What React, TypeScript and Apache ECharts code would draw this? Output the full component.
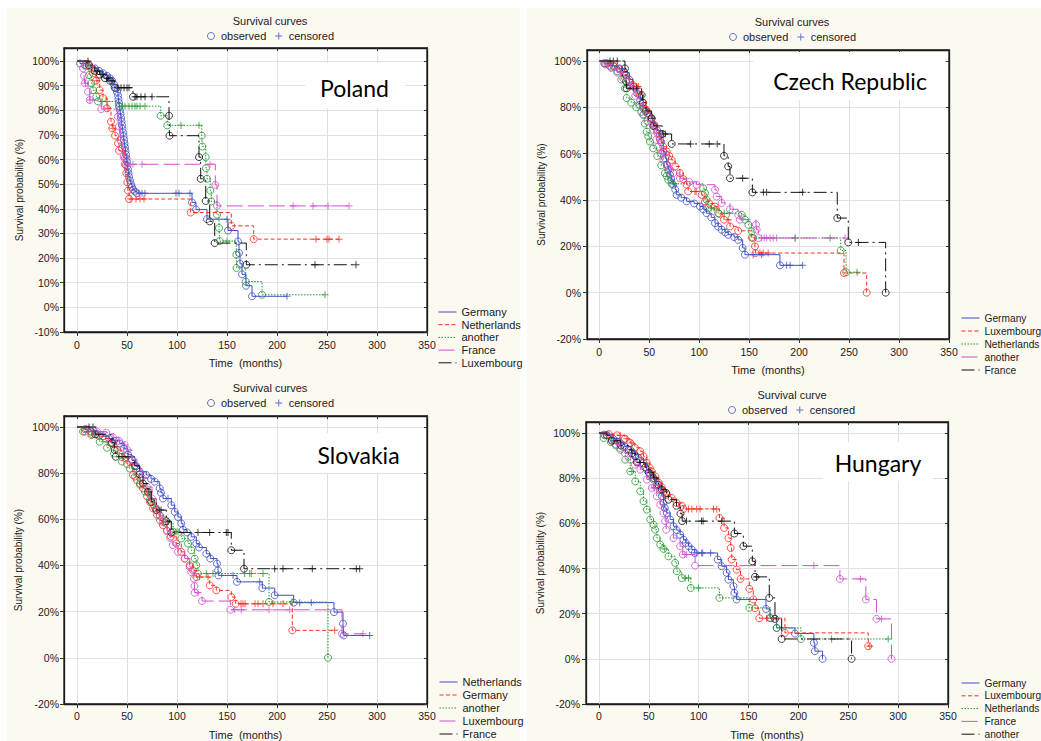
import React, { useEffect, useRef } from 'react';
import * as echarts from 'echarts';

// ---------- categories / labels ----------
const COUNTRIES = ['Poland', 'Czech Republic', 'Slovakia', 'Hungary'];
const TITLES = ['Survival curves', 'Survival curves', 'Survival curves', 'Survival curve'];
const PL_NAMES = ['Germany', 'Netherlands', 'another', 'France', 'Luxembourg'];
const CZ_NAMES = ['Germany', 'Luxembourg', 'Netherlands', 'another', 'France'];
const SK_NAMES = ['Netherlands', 'Germany', 'another', 'Luxembourg', 'France'];
const HU_NAMES = ['Germany', 'Luxembourg', 'Netherlands', 'France', 'another'];
const X_TICKS = [0, 50, 100, 150, 200, 250, 300, 350];
const Y_TICKS_10 = [-10, 0, 10, 20, 30, 40, 50, 60, 70, 80, 90, 100];
const Y_TICKS_20 = [-20, 0, 20, 40, 60, 80, 100];

// ---------- Poland: events [time, survival %], censored times ----------
const PL_GE_E = [[3,99],[10,98],[18,97],[22,96],[26,95],[30,94],[33,93],[35,92],[37,90.5],[39,89],[40,87.5],[41,86],[41.5,84.5],[42,83],[42.5,81.5],[43,80],[43.5,78.5],[44,77],[44.5,75.5],[45,74],[45.5,72.5],[46,71],[46.5,69.5],[47,68],[47.5,66.5],[48,65],[48.5,63.5],[49,62],[49.5,60.5],[50,59],[50.5,57.5],[51,56],[51.5,54.5],[52,53],[53,51.5],[54,50],[55,48.8],[56,47.8],[58,47],[60,46.3],[115,42.6],[119,39.7],[130,35.8],[151,31.2],[161,26.8],[162,22.1],[163,17.7],[165,13.4],[169,8.8],[175,4.5]];
const PL_GE_C = [62,65,68,99,102,113,150,210];
const PL_NL_E = [[12,98],[16,95],[19,92],[22.7,88.2],[26,85],[30,80.8],[34,75.4],[35.3,72.7],[38,69.7],[41,66.6],[42,63.6],[47.7,60.5],[48.7,57.8],[49.3,54.5],[50.3,50.8],[51,47.4],[52,44],[113.7,38.5],[154.3,33.1],[176.7,27.7]];
const PL_NL_C = [20,31,36,54,59,63,67,239,250,252,262];
const PL_AN_E = [[7.7,98.4],[12,94.3],[14.3,91],[16,88.2],[19.3,85.5],[21,83.6],[42,81.7],[83.7,77.8],[90.3,73.9],[124.7,69.7],[125.3,65.3],[128.7,61],[129,56.5],[130,52.2],[133.3,47.4],[134.3,43],[140,37.6],[142,32.2],[142.7,26.9],[159.3,21.4],[159.5,16],[168.7,10.5],[185,5.1]];
const PL_AN_C = [25,30,45,48,52,55,58,60,63,68,104,122,150,248];
const PL_FR_E = [[6,97],[7,94],[7.7,91],[11,87.6],[12.7,84.2],[24.3,80.5],[41,77.4],[42,73.4],[43.3,68],[45,64.6],[46.7,61.2],[47.7,58.1],[138.3,49.7],[140,41.2]];
const PL_FR_C = [8.5,13,56,65,133,216,236,251,272];
const PL_LU_E = [[12,98.4],[17.7,96],[22.7,94.5],[28,93],[33,92],[37.7,89.2],[56,85.5],[92,77.8],[92.5,69.7],[122,61],[123.7,52.2],[128.7,43.2],[132.7,34.9],[137.7,26.1],[169.3,17.3]];
const PL_LU_C = [11,20,24,26,30,31,35,41,44,47,50,52,58,60,64,68,75,238,279];

// ---------- Czech Republic ----------
const CZ_GE_E = [[5,99],[10,98],[15,97.5],[20,96.8],[25,95],[30,92],[34,89],[38,86],[41,83],[44,79.6],[48,77.5],[52,75.3],[55,72],[58,70],[60.7,68.1],[62,65],[64,60.9],[66,58],[67.4,55.2],[69,53],[70.7,50.9],[72,49],[74,46.6],[76,44.5],[77.4,42.2],[82,41],[87.4,39.4],[95,38.5],[100.7,37.2],[104,36],[107.4,34.3],[112,32.5],[115.8,30],[119,28.5],[122.5,27.2],[126,26],[129,25],[135,24],[139,22.8],[143.5,19.3],[145.8,16.4],[180.8,11.8]];
const CZ_GE_C = [154,162.5,187.5,191,203.5];
const CZ_LU_E = [[8,99],[14,98],[20,96.5],[25,94],[30,91],[35,89],[40.7,85.3],[44,82],[47,79],[49,77.4],[52,75],[55,72.5],[58,69],[60.7,66],[64,63],[67.4,60.9],[70,59],[72.4,57.3],[76,54.5],[80.7,51.6],[84,49],[87.4,46.6],[89,43.7],[102.4,42.2],[105.8,39.4],[110,38.5],[115.8,37.2],[120,34],[124.8,31.5],[130.8,28.6],[139,26.7],[152.5,23.8],[155.8,20],[156.3,17.1],[244.9,8.5],[267.6,0]];
const CZ_LU_C = [37,39,95.8,97,129,160.8,164,169];
const CZ_NL_E = [[6,99],[12,97.5],[18,95.5],[22,92],[25.7,88.2],[27.4,84],[32,82],[37,80],[42,78],[44,76.7],[45.5,73],[47.4,69.5],[49,67.5],[50.7,65.2],[54,62.3],[58,59],[62,55],[65.7,51.6],[67.4,50.4],[69,48.7],[72.4,47],[104,45.1],[105.8,43],[107.4,40.1],[109,36.5],[119,34.3],[142.5,33.6],[145.8,31.5],[149.2,29.3],[152.5,26.4],[154,23.6],[241.6,18.2],[247,8.8]];
const CZ_NL_C = [74,112,115,125,130,196,231,258];
const CZ_AN_E = [[6,98.5],[12,97],[18,95],[24,92.5],[30,89],[36,85],[40,81],[44,77],[48,74],[54,70.3],[57,66],[59,63],[62,60],[64,57.3],[68,55],[71,53],[74,51.6],[80.7,49.4],[90,47.8],[97.4,46.6],[115.8,44.4],[117.4,41.5],[122.5,38.7],[130.8,36],[139,33.6],[140.7,31.5],[156.8,29.3],[157.5,27.2],[159.2,23.6]];
const CZ_AN_C = [162.5,165,167.5,171,174,177.5,196,246];
const CZ_FR_E = [[25.7,96.8],[26.7,94],[26.9,91.1],[27.4,88.2],[42.4,85.3],[43.4,82],[46.7,78.4],[52.4,75.3],[54,72],[63,68.5],[72.4,64.2],[124.8,59.1],[129,54.5],[130.8,49.4],[153.2,43.3],[238.2,32.2],[249.2,21.7],[286.6,0]];
const CZ_FR_C = [10.7,14,18,34,37.4,53,64,66,91.4,110,118,143.5,164.2,167.5,203.5,259.3];

// ---------- Slovakia ----------
const SK_NL_E = [[8,99],[14,98],[20,97],[26,96],[32,95],[37,94],[42.7,92.9],[47,90.5],[51,88],[55,85.5],[59,83],[62.7,80.6],[69.3,79.2],[74,77.5],[77.7,76.3],[82.7,73.4],[84,71.5],[86,69],[94.3,66.1],[97.7,63.2],[101,61],[104.3,58.2],[106,55.5],[110,54.3],[114.3,52.4],[119.3,49.5],[122,47.8],[129.3,45.1],[133.3,43],[140,40.8],[141,37.9],[141.5,35.7],[160,32.9],[185.3,30.2],[197.7,27.1],[216.7,23.9],[257,19.8],[266,14.8],[266.7,9.7]];
const SK_NL_C = [91,156,182.7,222.7,234.3,292.7];
const SK_GE_E = [[7.7,98],[15,97],[22,96],[28,95],[34,93],[40,90],[45,87],[50,84],[56,79.2],[60,77],[63,75],[66,73.4],[70,70],[73,67.5],[76,64.7],[80,62],[83,59.5],[86,57.5],[90,55],[94,52.5],[99.3,49.5],[104.3,45.9],[107.7,43],[112.7,40.1],[116,37.9],[119.3,35],[132.7,31.4],[139.3,29.2],[154.3,26.3],[158.7,23.4],[215.3,11.9]];
const SK_GE_C = [122.7,131,164,166,168,178,181,186,196,206,257.7];
const SK_AN_E = [[6,98],[14.3,96.5],[22.7,93.6],[30,91],[37,88.5],[45,85],[52.7,82],[58,78.5],[63,75.5],[68,72],[73,68.5],[78,65],[82.7,61.8],[88,58.5],[96,54.6],[104.3,51.7],[111,49.5],[114.3,46.6],[117.7,43],[119.3,40.1],[121,36.5],[192,24.2],[251,0]];
const SK_AN_C = [99,101,129.3,136,167.7,172.7,174.3,186,215];
const SK_LU_E = [[10,99],[20,98],[29.3,97.5],[36,95.5],[42,94],[47.7,92.2],[50,90],[55,86],[60,82],[65,78],[70,74],[75,69],[79.3,64.7],[83,61.5],[86,58.9],[90,55],[93,52],[96,48.8],[101,45.9],[107.7,43],[112.7,39.4],[114.3,37.2],[117,34.3],[117.5,31.1],[117.7,28.2],[125,24.6],[153.3,20.8],[265,10.4]];
const SK_LU_C = [121,157.7,164.3,192,212.7,286];
const SK_FR_E = [[18.3,96.8],[35,93.2],[37.7,90],[38.7,87.1],[57.7,83.2],[62.7,79.5],[66,75.5],[71,71.9],[74.3,67.6],[79.3,64],[89.3,59.2],[94.3,54.3],[154.3,46.6],[167,38.6]];
const SK_FR_C = [12,16,46,51,72,84,91,121,132.7,149.3,151,197.7,206,235.3,279.3,282.7];

// ---------- Hungary ----------
const HU_GE_E = [[5,99.3],[14,97.5],[21.4,95.6],[26,94],[31.4,92.6],[36,90.5],[39.7,89],[44.7,86.7],[48,83.8],[51,81.5],[54.7,79.4],[58,77],[61.4,74.9],[63,72],[64.7,69],[66,66.8],[68,64.6],[71.4,61.7],[74.7,58.7],[78,57],[81.4,55],[84.7,52.8],[87,51.3],[89.8,49.9],[93.1,48.4],[96,46.9],[119,44],[123,41],[128,38.1],[129.8,35.1],[134.8,32.2],[135.8,29.2],[138,26.3],[167.5,22.1],[171.5,18.1],[178.2,13.7],[196.5,11.2],[215.5,7.1],[216.5,3.4],[224.2,0]];
const HU_GE_C = [98,103,104,112];
const HU_LU_E = [[10,99.5],[18,99],[26,97.5],[31.4,95.6],[36,93.5],[41.4,91.9],[44.7,89.7],[48,86.7],[51,84.5],[53,83],[56.4,80.8],[60,78],[63,76],[65,74],[68,72.7],[73,71.2],[78,69],[83,67.8],[84.7,66.4],[120.8,62.4],[125.5,58],[129.8,53.5],[132.1,49.1],[133.1,44],[138,39.5],[142,35.4],[150.8,31],[154.8,26.3],[156.5,22.4],[160.8,18],[186.5,11.5],[270,5.6]];
const HU_LU_C = [21.4,28,33,89.8,93.1,98,101.4,114.8,118.1,168.2,174.8,271.6];
const HU_NL_E = [[4.7,97.8],[12,96],[17,94.5],[21.4,92.6],[26.4,88.2],[31.4,83],[36.4,78.6],[41.4,74.2],[44.7,69.8],[48,66.1],[51.4,61.7],[54.7,59.4],[56.4,57.2],[58,53.5],[61.4,50.6],[64.7,48.7],[69.7,45.4],[76.4,42.5],[78,38.8],[83,35.8],[92.1,31.4],[120.8,27],[150.8,22.6],[172,18],[178.2,13.7],[202.5,8.8]];
const HU_NL_C = [33,66,86.4,89.8,99.8,233.3,290];
const HU_FR_E = [[6,99],[13,97],[17,95],[21.4,93.4],[26,91],[31.4,88.2],[36,86],[41.4,83.8],[48,79.4],[53,75.7],[58,72],[61.4,68.3],[64.7,64.6],[66.4,61],[67.4,57.2],[74.7,53.5],[81.4,49.9],[84.1,46.2],[96.4,41.3],[241.6,35.4],[267.6,26.3],[278.3,17.7],[293.3,0]];
const HU_FR_C = [55,56,86,88,215.5,262.3,283.3];
const HU_AN_E = [[8,99],[13,96.6],[22,94.5],[29.7,92.6],[33,91],[36.4,89.7],[38,87],[46.4,84.8],[50,82.5],[54.7,80.1],[59.7,77.1],[63,75],[67.4,73.5],[69.7,70.5],[77.7,67.8],[81.7,64.3],[83.4,61],[135.8,55.5],[144.8,49.9],[153.8,43.2],[156.5,36.3],[170.8,27],[176.5,17.7],[183.2,8.8],[253.3,0]];
const HU_AN_C = [15,18,41,52,56,87.8,102.8,104.4,123.1,158,178];

// ---------- assembly ----------
const PANEL_NAMES = [PL_NAMES, CZ_NAMES, SK_NAMES, HU_NAMES];
const PANEL_EVENTS = [
  [PL_GE_E, PL_NL_E, PL_AN_E, PL_FR_E, PL_LU_E],
  [CZ_GE_E, CZ_LU_E, CZ_NL_E, CZ_AN_E, CZ_FR_E],
  [SK_NL_E, SK_GE_E, SK_AN_E, SK_LU_E, SK_FR_E],
  [HU_GE_E, HU_LU_E, HU_NL_E, HU_FR_E, HU_AN_E],
];
const PANEL_CENSORED = [
  [PL_GE_C, PL_NL_C, PL_AN_C, PL_FR_C, PL_LU_C],
  [CZ_GE_C, CZ_LU_C, CZ_NL_C, CZ_AN_C, CZ_FR_C],
  [SK_NL_C, SK_GE_C, SK_AN_C, SK_LU_C, SK_FR_C],
  [HU_GE_C, HU_LU_C, HU_NL_C, HU_FR_C, HU_AN_C],
];

const COLORS = ['#3d4fc6', '#ff2b1c', '#22992a', '#d050d0', '#111111'];
const DASHES: any[] = ['solid', [4, 2.5], [1.5, 1.5], [16, 5], [13, 4, 2, 4]];
const PLUS = 'path://M-0.14,-1H0.14V-0.14H1V0.14H0.14V1H-0.14V0.14H-1V-0.14H-0.14Z';
const FONT = 'Liberation Sans, Arial, sans-serif';
const TXT = '#1a1a1a';

const LAYOUT = [
  { left: 64, top: 48, width: 363, height: 284, xMin: -13, yMin: -10, yMax: 105.3, yTicks: Y_TICKS_10, titleX: 270, titleY: 21, legLeft: 207, legY: 36, sideLeft: 438, sideY: 312, sideGap: 12.7, sideFont: 11, cx: 354.5, cy: 88, box: [305, 63, 100, 45], xMargin: 7, yMargin: 5, yNameGap: 40 },
  { left: 587, top: 50, width: 362, height: 289, xMin: -12.3, yMin: -20, yMax: 104.75, yTicks: Y_TICKS_20, titleX: 792, titleY: 22, legLeft: 729, legY: 37, sideLeft: 961, sideY: 318, sideGap: 13, sideFont: 10.2, cx: 850, cy: 81, box: [753, 52, 192, 48], xMargin: 7, yMargin: 6, yNameGap: 41 },
  { left: 64, top: 416, width: 363, height: 288, xMin: -13, yMin: -20, yMax: 104.75, yTicks: Y_TICKS_20, titleX: 270, titleY: 388, legLeft: 207, legY: 403, sideLeft: 439, sideY: 682, sideGap: 13, sideFont: 11, cx: 358.5, cy: 455, box: [313, 433, 92, 40], xMargin: 6, yMargin: 5, yNameGap: 41 },
  { left: 586, top: 422, width: 362, height: 282, xMin: -13, yMin: -20, yMax: 104.9, yTicks: Y_TICKS_20, titleX: 792, titleY: 395, legLeft: 728, legY: 410, sideLeft: 961, sideY: 683, sideGap: 12.8, sideFont: 10.2, cx: 878, cy: 463, box: [823, 442, 110, 39], xMargin: 6, yMargin: 6, yNameGap: 41 },
];

function level(ev: number[][], t: number) {
  let s = 100;
  for (const [x, y] of ev) {
    if (x <= t) s = y;
    else break;
  }
  return s;
}

function buildOption() {
  const xAxis: any[] = [];
  const yAxis: any[] = [];
  const series: any[] = [];
  const legend: any[] = [];
  const graphic: any[] = [
    { type: 'rect', shape: { x: 7, y: 8, width: 513, height: 733 }, style: { fill: '#fbf9f0' }, z: -10, silent: true },
    { type: 'rect', shape: { x: 527, y: 8, width: 514, height: 733 }, style: { fill: '#fbf9f0' }, z: -10, silent: true },
  ];
  const axisLine = { show: true, onZero: false, lineStyle: { color: '#1a1a1a', width: 1.3 } };

  LAYOUT.forEach((L, i) => {
    xAxis.push({
      type: 'value', gridIndex: i, position: 'bottom', min: L.xMin, max: 350,
      name: 'Time  (months)', nameLocation: 'middle', nameGap: 25.5,
      nameTextStyle: { fontSize: 11, color: TXT, fontFamily: FONT },
      axisLine, axisTick: { show: true, length: 4, customValues: X_TICKS, lineStyle: { color: '#333' } },
      axisLabel: { customValues: X_TICKS, margin: L.xMargin, fontSize: 10.5, color: TXT, fontFamily: FONT },
      splitLine: { show: true, lineStyle: { color: '#e0e0e0', width: 1 } },
    });
    xAxis.push({
      type: 'value', gridIndex: i, position: 'top', min: L.xMin, max: 350,
      axisLine, axisTick: { show: true, inside: true, length: 3, customValues: X_TICKS, lineStyle: { color: '#333' } },
      axisLabel: { show: false }, splitLine: { show: false },
    });
    yAxis.push({
      type: 'value', gridIndex: i, position: 'left', min: L.yMin, max: L.yMax,
      name: 'Survival probability (%)', nameLocation: 'middle', nameGap: L.yNameGap,
      nameTextStyle: { fontSize: 10, color: TXT, fontFamily: FONT },
      axisLine, axisTick: { show: true, length: 4, customValues: L.yTicks, lineStyle: { color: '#333' } },
      axisLabel: { customValues: L.yTicks, margin: L.yMargin, fontSize: 10.5, color: TXT, fontFamily: FONT, formatter: (v: number) => `${v}%` },
      splitLine: { show: true, lineStyle: { color: '#e0e0e0', width: 1 } },
    });
    yAxis.push({
      type: 'value', gridIndex: i, position: 'right', min: L.yMin, max: L.yMax,
      axisLine, axisTick: { show: true, inside: true, length: 3, customValues: L.yTicks, lineStyle: { color: '#333' } },
      axisLabel: { show: false }, splitLine: { show: false },
    });

    const names = PANEL_NAMES[i];
    names.forEach((nm, k) => {
      const ev = PANEL_EVENTS[i][k];
      const cens = PANEL_CENSORED[i][k];
      const last = ev[ev.length - 1];
      const lastT = Math.max(last[0], cens.length ? cens[cens.length - 1] : 0);
      const lineData: number[][] = [[0, 100], ...ev];
      if (lastT > last[0]) lineData.push([lastT, last[1]]);
      const c = COLORS[k];
      series.push({
        type: 'line', name: `${i}|${nm}`, xAxisIndex: 2 * i, yAxisIndex: 2 * i,
        step: 'end', symbol: 'none', silent: true, data: lineData,
        lineStyle: { color: c, width: 1, type: DASHES[k] }, itemStyle: { color: c },
      });
      series.push({
        type: 'scatter', name: 'observed', xAxisIndex: 2 * i, yAxisIndex: 2 * i,
        symbol: 'circle', symbolSize: 7, silent: true, data: ev,
        itemStyle: { color: 'rgba(0,0,0,0)', borderColor: c, borderWidth: 1 },
      });
      series.push({
        type: 'scatter', name: 'censored', xAxisIndex: 2 * i, yAxisIndex: 2 * i,
        symbol: PLUS, symbolSize: 7, symbolKeepAspect: true, silent: true,
        data: cens.map((t) => [t, level(ev, t)]),
        itemStyle: { color: c, borderWidth: 0 },
      });
    });

    legend.push({
      orient: 'horizontal', left: L.legLeft, top: L.legY - 6.5, padding: 0,
      itemWidth: 10, itemHeight: 7, itemGap: 9, selectedMode: false,
      textStyle: { fontSize: 11, color: TXT, fontFamily: FONT, lineHeight: 13 },
      data: [
        { name: 'observed', itemStyle: { borderWidth: 1 } },
        { name: 'censored', itemStyle: { borderWidth: 0 } },
      ],
    });
    legend.push({
      orient: 'vertical', left: L.sideLeft, top: L.sideY - L.sideGap / 2, padding: 0,
      itemWidth: 18, itemHeight: 10, itemGap: 0, selectedMode: false,
      textStyle: { fontSize: L.sideFont, color: TXT, fontFamily: FONT, lineHeight: L.sideGap },
      lineStyle: { width: 1 },
      itemStyle: { opacity: 0 },
      formatter: (n: string) => n.split('|')[1],
      data: names.map((nm) => `${i}|${nm}`),
    });

    graphic.push({
      type: 'rect', shape: { x: L.box[0], y: L.box[1], width: L.box[2], height: L.box[3] },
      style: { fill: '#ffffff' }, z: 1, silent: true,
    });
    graphic.push({
      type: 'text', x: L.cx, y: L.cy, z: 1.5, silent: true,
      style: {
        text: COUNTRIES[i], fill: '#000', fontSize: 23, fontFamily: 'Lato, Noto Sans, sans-serif',
        align: 'center', verticalAlign: 'middle', textAlign: 'center', textVerticalAlign: 'middle',
      },
    });
  });

  return {
    animation: false,
    backgroundColor: '#ffffff',
    textStyle: { fontFamily: FONT },
    title: LAYOUT.map((L, i) => ({
      text: TITLES[i], left: L.titleX, top: L.titleY - 6.5, textAlign: 'center', padding: 0,
      textStyle: { fontSize: 11, fontWeight: 'normal', color: TXT, fontFamily: FONT, lineHeight: 13 },
    })),
    legend,
    grid: LAYOUT.map((L) => ({
      left: L.left, top: L.top, width: L.width, height: L.height,
      show: true, backgroundColor: '#ffffff', borderColor: '#1a1a1a', borderWidth: 1.3,
      containLabel: false, outerBoundsMode: 'none',
    })),
    xAxis, yAxis, series, graphic,
  };
}

export default function App() {
  const ref = useRef<HTMLDivElement>(null);
  useEffect(() => {
    if (!ref.current) return;
    const chart = echarts.init(ref.current, undefined, { renderer: 'svg' });
    chart.setOption(buildOption() as any);
    return () => chart.dispose();
  }, []);
  return (
    <div
      ref={ref}
      style={{ position: 'fixed', left: 0, top: 0, width: 1041, height: 741 }}
    />
  );
}
